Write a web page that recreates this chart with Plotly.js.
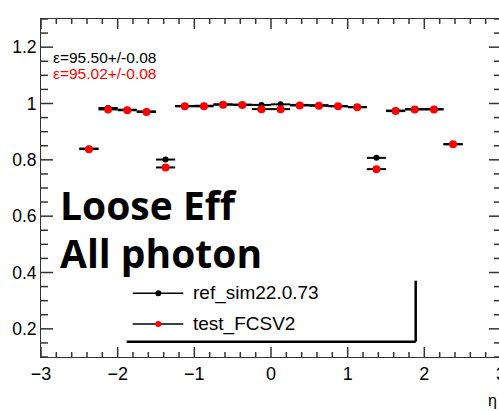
<!DOCTYPE html>
<html>
<head>
<meta charset="utf-8">
<script src="https://cdn.plot.ly/plotly-3.0.1.min.js"></script>
<style>
html,body{margin:0;padding:0;overflow:hidden;background:#fff;}
#plot{width:510px;height:411px;}
</style>
</head>
<body>
<div id="plot"></div>
<script>
// eta bin centres and half widths
const etaCenters = [-2.375, -2.125, -1.875, -1.625, -1.375, -1.125, -0.875, -0.625, -0.375, -0.125,
                    0.125, 0.375, 0.625, 0.875, 1.125, 1.375, 1.625, 1.875, 2.125, 2.375];
const etaHalfWidth = [0.125,0.125,0.125,0.125,0.125,0.125,0.125,0.125,0.125,0.125,
                      0.125,0.125,0.125,0.125,0.125,0.125,0.125,0.125,0.125,0.125];
const refEff  = [0.840, 0.984, 0.978, 0.972, 0.801, 0.991, 0.992, 0.997, 0.996, 0.995,
                 0.997, 0.995, 0.994, 0.991, 0.987, 0.807, 0.975, 0.980, 0.980, 0.856];
const testEff = [0.838, 0.979, 0.976, 0.970, 0.773, 0.990, 0.990, 0.996, 0.995, 0.980,
                 0.980, 0.993, 0.992, 0.990, 0.987, 0.767, 0.973, 0.979, 0.979, 0.855];
const seriesNames = ["ref_sim22.0.73", "test_FCSV2"];
const effTexts = ["\u03b5=95.50+/-0.08", "\u03b5=95.02+/-0.08"];
const xMajorTicks = [-3, -2, -1, 0, 1, 2, 3];
const yMajorTicks = [0.2, 0.4, 0.6, 0.8, 1.0, 1.2];

const FONT = "Liberation Sans, Arial, Helvetica, sans-serif";
const TICKC = '#333';

function errX(){
  return {type:'data', symmetric:true, array:etaHalfWidth, color:'#000', thickness:2, width:0};
}

const traces = [
  {x:etaCenters, y:refEff, type:'scatter', mode:'markers', name:seriesNames[0],
   marker:{color:'#000', size:6}, error_x:errX(), showlegend:false, hoverinfo:'x+y'},
  {x:etaCenters, y:testEff, type:'scatter', mode:'markers', name:seriesNames[1],
   marker:{color:'#ff0000', size:8}, error_x:errX(), showlegend:false, hoverinfo:'x+y'}
];

function px2x(p){ return (p-41)/460; }
function px2y(p){ return (357-p)/338; }

const shapes = [];
const annotations = [];

// axis ticks (inside, on all four sides) drawn as pixel-length shapes
function xTick(v, len){
  shapes.push({type:'line', xref:'x', yref:'paper', ysizemode:'pixel', yanchor:0, x0:v, x1:v, y0:0, y1:len,
               line:{color:TICKC, width:1.5}});
  shapes.push({type:'line', xref:'x', yref:'paper', ysizemode:'pixel', yanchor:1, x0:v, x1:v, y0:0, y1:-len,
               line:{color:TICKC, width:1.5}});
}
function yTick(v, len){
  shapes.push({type:'line', yref:'y', xref:'paper', xsizemode:'pixel', xanchor:0, y0:v, y1:v, x0:0, x1:len,
               line:{color:TICKC, width:1.5}});
  shapes.push({type:'line', yref:'y', xref:'paper', xsizemode:'pixel', xanchor:1, y0:v, y1:v, x0:0, x1:-len,
               line:{color:TICKC, width:1.5}});
}
for (let i=-15;i<=15;i++){            // x minor step 0.2
  const v = i/5;
  if (i%5===0) xTick(v, 10); else xTick(v, 5);
}
for (let i=2;i<=26;i++){              // y minor step 0.05 from 0.1 to 1.3
  const v = i/20;
  if (i%4===0) yTick(v, 12); else yTick(v, 7);
}

// legend lines + markers
const legY = [293.3, 324];
const legColors = ['#000', '#ff0000'];
for (let i=0;i<2;i++){
  shapes.push({type:'line', xref:'paper', yref:'paper', x0:px2x(132.7), x1:px2x(183.3),
               y0:px2y(legY[i]), y1:px2y(legY[i]), line:{color:'#000', width:1.5}});
  shapes.push({type:'circle', xref:'paper', yref:'paper', xsizemode:'pixel', ysizemode:'pixel',
               xanchor:px2x(158.3), yanchor:px2y(legY[i]), x0:-3, x1:3, y0:-3, y1:3,
               fillcolor:legColors[i], line:{width:0}});
  annotations.push({xref:'paper', yref:'paper', x:px2x(190.5), y:px2y(legY[i]),
                    xanchor:'left', yanchor:'middle', showarrow:false, text:seriesNames[i],
                    font:{family:FONT, size:19, color:'#000'}});
}
// legend shadow box
shapes.push({type:'line', xref:'paper', yref:'paper', x0:px2x(126.7), x1:px2x(415.7),
             y0:px2y(341.7), y1:px2y(341.7), line:{color:'#000', width:2.5}});
shapes.push({type:'line', xref:'paper', yref:'paper', x0:px2x(415.7), x1:px2x(415.7),
             y0:px2y(280.7), y1:px2y(341.7), line:{color:'#000', width:2.5}});

// efficiency texts
const effColors = ['#000', '#ff0000'];
const effY = [57, 73];
for (let i=0;i<2;i++){
  annotations.push({xref:'paper', yref:'paper', x:px2x(50.5), y:px2y(effY[i]),
                    xanchor:'left', yanchor:'middle', showarrow:false, text:effTexts[i],
                    font:{family:FONT, size:15.5, color:effColors[i]}});
}
// big labels
annotations.push({xref:'paper', yref:'paper', x:px2x(58), y:px2y(205), xanchor:'left', yanchor:'middle',
                  showarrow:false, text:'<b>Loose Eff</b>', font:{family:'Open Sans, sans-serif', size:39, color:'#000'}});
annotations.push({xref:'paper', yref:'paper', x:px2x(58), y:px2y(252), xanchor:'left', yanchor:'middle',
                  showarrow:false, text:'<b>All photon</b>', font:{family:'Open Sans, sans-serif', size:39, color:'#000'}});
// eta axis title
annotations.push({xref:'paper', yref:'paper', x:px2x(492), y:px2y(400), xanchor:'center', yanchor:'middle',
                  showarrow:false, text:'\u03b7', font:{family:FONT, size:16, color:'#000'}});

const layout = {
  width:510, height:411,
  margin:{l:41, r:9, t:19, b:54},
  paper_bgcolor:'#fff', plot_bgcolor:'#fff',
  showlegend:false,
  xaxis:{range:[-3,3], tickmode:'array', tickvals:xMajorTicks, ticks:'',
         showgrid:false, zeroline:false, showline:true, linecolor:'#333', linewidth:1,
         mirror:true, tickfont:{family:FONT, size:18, color:'#000'}},
  yaxis:{range:[0.1,1.3], tickmode:'array', tickvals:yMajorTicks, ticks:'',
         showgrid:false, zeroline:false, showline:true, linecolor:'#333', linewidth:1,
         mirror:true, tickfont:{family:FONT, size:17.5, color:'#000'}},
  shapes:shapes,
  annotations:annotations
};

Plotly.newPlot('plot', traces, layout, {displayModeBar:false, staticPlot:true});
</script>
</body>
</html>
